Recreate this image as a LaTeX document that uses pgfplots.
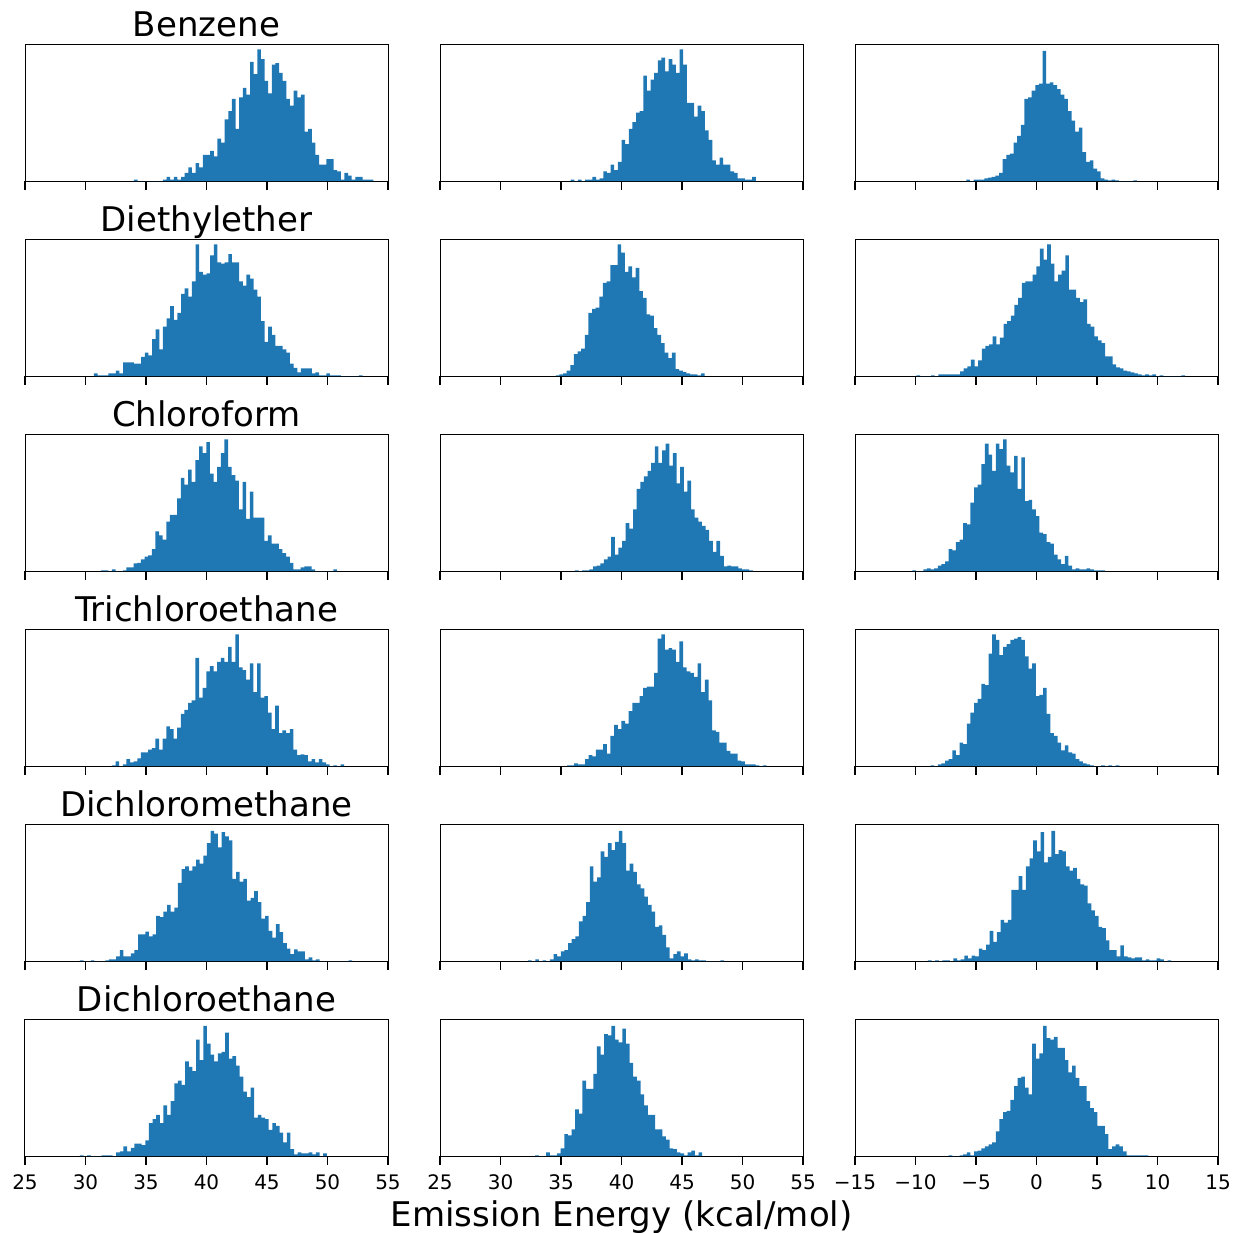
\documentclass[border=0pt]{standalone}
\usepackage{fontspec}
\setmainfont{DejaVu Sans}
\usepackage{pgfplots}
\pgfplotsset{compat=1.18}
\definecolor{tabblue}{HTML}{1F77B4}
\newcommand{\hist}[2]{\addplot[ybar interval, fill=tabblue, draw=none] table[x expr={#1+0.3*\coordindex}, y index=0, row sep=\\] {#2 0\\};}
\pgfplotsset{
  hax/.style={scale only axis, width=181.5pt, height=68.5pt, anchor=north west,
    ymin=0, ymax=100, ytick=\empty, enlargelimits=false,
    axis line style={line width=0.5pt},
    tick align=outside, xtick pos=left, major tick length=4.5pt,
    tick style={black, line width=0.9pt},
    /pgf/number format/assume math mode=true,
    tick label style={font=\fontsize{10}{12}\selectfont},
    xticklabel style={yshift=-1.5pt},
    every axis title/.style={at={(0.5,1)}, anchor=base, yshift=4pt, font=\fontsize{17}{20}\selectfont},
    xlabel style={at={(0.5,0)}, anchor=base, yshift=-35pt, font=\fontsize{17}{20}\selectfont},
  },
  cA/.style={hax, xmin=25, xmax=55, xtick={25,30,35,40,45,50,55}},
  cC/.style={hax, xmin=-15, xmax=15, xtick={-15,-10,-5,0,5,10,15}},
  nol/.style={xticklabels={}},
}
\begin{document}
\begin{tikzpicture}
\path[use as bounding box] (0,0) rectangle (618pt,-616pt);
% ---------- Row 1: Benzene
\begin{axis}[cA, nol, at={(12.5pt,-22pt)}, title={Benzene}]
\hist{34.0}{1\\0\\0\\0\\0\\0\\0\\0\\1\\3\\1\\3\\1\\3\\6\\10\\6\\13\\10\\19\\19\\22\\18\\31\\28\\45\\51\\60\\38\\61\\68\\63\\87\\78\\96\\89\\73\\64\\85\\86\\79\\73\\60\\55\\66\\61\\63\\36\\38\\28\\19\\12\\12\\16\\16\\8\\7\\1\\6\\4\\1\\3\\3\\1\\1\\1\\}
\end{axis}
\begin{axis}[cA, nol, at={(220pt,-22pt)}]
\hist{35.8}{1\\0\\1\\0\\1\\1\\3\\1\\2\\7\\6\\12\\8\\14\\30\\27\\38\\43\\50\\51\\77\\66\\74\\79\\88\\90\\80\\89\\85\\79\\96\\85\\57\\57\\47\\55\\51\\37\\30\\15\\12\\17\\12\\12\\7\\6\\2\\2\\1\\1\\3\\}
\end{axis}
\begin{axis}[cC, nol, at={(427.5pt,-22pt)}]
\hist{-5.8}{1\\0\\1\\1\\1\\2\\2.5\\3\\4\\6\\16\\19\\20\\28\\33\\41\\60\\61\\66\\70\\71\\95\\71\\72\\70\\67\\63\\60\\51\\44\\36\\39\\21\\14\\15\\9\\7\\2\\1\\0.5\\1\\0.5\\0\\0\\0\\0\\0.5\\}
\end{axis}
% ---------- Row 2: Diethylether
\begin{axis}[cA, nol, at={(12.5pt,-119.5pt)}, title={Diethylether}]
\hist{30.7}{2\\.5\\.5\\.5\\2\\2\\4\\2\\10\\10\\10\\9\\9\\14\\17\\15\\27\\34\\19.5\\36\\42\\51\\41\\46\\60\\64\\58\\69\\96\\76\\74\\75\\88\\96\\83\\82\\83\\89\\83\\83\\69\\66\\74\\71\\63\\58\\40\\25\\36\\30\\22\\22\\19.5\\17\\9\\6\\2.7\\5.6\\5.6\\5.6\\2\\2.7\\.5\\.5\\2\\.5\\.5\\.5\\0\\0\\0\\0\\0\\.5\\}
\end{axis}
\begin{axis}[cA, nol, at={(220pt,-119.5pt)}]
\hist{34.57}{.5\\1.2\\2\\4\\8\\16\\18\\20\\30\\46\\49\\50\\58\\68\\69\\81\\81\\96\\90\\76\\80\\72\\79\\62\\57\\45\\44\\35\\30\\24\\17\\13\\17\\5\\4\\3\\2\\1.2\\1.2\\.5\\2\\}
\end{axis}
\begin{axis}[cC, nol, at={(427.5pt,-119.5pt)}]
\hist{-9.92}{.5\\0\\0\\0\\.5\\0\\1.2\\1.2\\1.2\\1.2\\1.2\\1.2\\3.4\\5.6\\7\\12\\7\\11.5\\20\\22\\23\\29\\23\\28\\38\\40\\44\\52\\57\\68\\69\\69\\74\\80\\93\\85\\96\\82\\69\\74\\77\\88\\63\\63\\57\\54\\56\\38\\36\\29\\26\\24\\14.4\\14.4\\8.5\\6.3\\5.6\\4\\3.4\\2.7\\2\\1.2\\.5\\1.2\\.5\\1.2\\0\\.5\\0\\0\\0\\0\\0\\.5\\}
\end{axis}
% ---------- Row 3: Chloroform
\begin{axis}[cA, nol, at={(12.5pt,-217pt)}, title={Chloroform}]
\hist{31.28}{.5\\.5\\0\\1.2\\0\\0\\.5\\2.7\\2.7\\5.6\\6\\8.5\\10.5\\11.5\\16\\29\\26\\23\\36\\41\\41\\53\\68\\63\\74\\65\\81\\91\\86\\94\\71\\65\\76\\86\\96\\76\\70\\66\\45\\65\\38\\58\\39\\39\\39\\22\\26\\20\\20\\16\\13\\10.5\\6\\1.2\\1.2\\2.7\\3.4\\3.4\\1.2\\0\\0\\0\\0\\0\\1.2\\}
\end{axis}
\begin{axis}[cA, nol, at={(220pt,-217pt)}]
\hist{36.15}{.5\\0\\.5\\.5\\1.2\\3.4\\4\\5.6\\8.5\\10.5\\25\\12\\17\\22\\35\\31\\45\\60\\65\\69\\73\\79\\91\\79\\88\\93\\77\\86\\64\\76\\58\\66\\45\\39\\36\\33\\30\\22\\14\\22\\11\\3.4\\4\\3.4\\3.4\\2\\1.2\\1.2\\.5\\}
\end{axis}
\begin{axis}[cC, nol, at={(427.5pt,-217pt)}]
\hist{-10.26}{.5\\0\\0\\1.2\\2\\1.2\\2\\4\\5\\7\\16\\15\\21\\23\\35\\34\\50\\61\\63\\78\\93\\85\\73\\93\\89\\96\\77\\72\\84\\60\\83\\51\\52\\45\\40\\28\\27\\21\\20\\12\\8.5\\5\\11\\4\\1.2\\2\\1.2\\1.2\\2\\1.2\\.5\\.5\\.5\\}
\end{axis}
% ---------- Row 4: Trichloroethane
\begin{axis}[cA, nol, at={(12.5pt,-314.5pt)}, title={Trichloroethane}]
\hist{32.18}{.5\\3.4\\0\\1.2\\5\\2.7\\3.4\\5.6\\10\\10\\12\\13\\20\\12\\20\\29\\27\\20\\28\\38\\41\\46\\48\\79\\50\\57\\69\\73\\69\\76\\79\\76\\87\\76\\96\\72\\70\\63\\75\\54\\75\\50\\51\\39\\27\\44\\24\\26\\24\\27\\12\\8\\8.5\\8\\3.4\\5\\2.7\\5\\2.7\\1.2\\0\\.5\\0\\1.2\\}
\end{axis}
\begin{axis}[cA, nol, at={(220pt,-314.5pt)}]
\hist{35.49}{.5\\.5\\2\\1.2\\1.2\\5\\8\\7\\12\\12\\16\\9\\22\\30\\27\\33\\31\\40\\46\\46\\51\\57\\58\\58\\68\\93\\96\\85\\86\\85\\76\\91\\72\\69\\68\\65\\75\\54\\63\\48\\26\\25\\17\\17\\11\\9\\9\\4\\3.4\\1.2\\1.2\\1.2\\.5\\0\\.5\\}
\end{axis}
\begin{axis}[cC, nol, at={(427.5pt,-314.5pt)}]
\hist{-8.76}{.5\\0\\1.2\\2\\4\\5\\11.5\\8\\17\\16\\31\\39\\46\\49\\60\\59\\82\\96\\92\\81\\87\\89\\92\\93\\94\\92\\80\\71\\75\\51\\52\\57\\38\\24\\22\\17\\11.5\\15\\10\\9\\5\\3.4\\2\\1.2\\.5\\0\\0\\.5\\0\\.5\\0\\.5\\}
\end{axis}
% ---------- Row 5: Dichloromethane
\begin{axis}[cA, nol, at={(12.5pt,-412pt)}, title={Dichloromethane}]
\hist{29.54}{.5\\0\\0\\.5\\0\\0\\0\\.5\\1.2\\1.2\\3.4\\8\\3.4\\3.4\\5.6\\8\\19.5\\19.5\\21.5\\18\\19.5\\33\\32\\36\\41\\36\\39\\57\\67\\69\\66\\69\\74\\71\\77\\86\\95\\93\\83\\94\\91\\88\\60\\65\\58\\60\\44\\46\\51\\43\\31\\33\\22\\17\\27\\21\\13\\9\\5\\8.5\\7\\7\\1.2\\2.7\\.5\\1.2\\0\\0\\0\\0\\0\\0\\0\\0\\.5\\}
\end{axis}
\begin{axis}[cA, nol, at={(220pt,-412pt)}]
\hist{32.28}{.5\\0\\1.2\\0\\.5\\0\\1.2\\5\\3.4\\7\\8\\13\\16\\18\\29\\33\\43\\69\\58\\61\\80\\76\\86\\81\\87\\95\\86\\66\\71\\65\\56\\53\\47\\41\\36\\25\\26\\19\\10\\2\\5\\7\\3.4\\5.6\\1.2\\.5\\1.2\\.5\\.5\\0\\0\\0\\0\\.5\\}
\end{axis}
\begin{axis}[cC, nol, at={(427.5pt,-412pt)}]
\hist{-8.97}{.5\\0\\.5\\0\\.5\\.5\\0\\2\\.5\\1.2\\4\\2\\4\\3.4\\9\\8\\12\\22\\14\\21\\30\\28\\30\\52\\52\\62\\52\\69\\75\\88\\80\\94\\72\\76\\95\\78\\81\\80\\69\\66\\68\\60\\56\\55\\42\\37\\33\\25\\24\\15\\8\\8\\3.4\\11.5\\3.4\\2.7\\2\\2.7\\2.7\\.5\\1.2\\.5\\.5\\2\\1.2\\0\\.5\\}
\end{axis}
% ---------- Row 6: Dichloroethane
\begin{axis}[cA, at={(12.5pt,-509.5pt)}, title={Dichloroethane}]
\hist{29.54}{.5\\0\\.5\\0\\0\\0\\.5\\.5\\.5\\0\\2.7\\3.4\\7\\3.4\\6\\9\\9\\8\\11.5\\24\\27\\30\\24\\37\\30\\40\\53\\55\\52\\69\\65\\62\\85\\70\\95\\82\\74\\69\\75\\76\\90\\71\\73\\66\\58\\47\\43\\50\\28\\30\\28\\27\\19\\24\\22\\17\\10\\17\\5\\1.2\\2.7\\2\\2\\2.7\\1.2\\2.7\\0\\2\\}
\end{axis}
\begin{axis}[cA, at={(220pt,-509.5pt)}, xlabel={Emission Energy (kcal/mol)}]
\hist{32.87}{.5\\0\\0\\2.7\\.5\\.5\\2\\5.6\\16\\15\\19.5\\34\\31\\55\\49\\49\\60\\80\\74\\89\\88\\95\\85\\83\\93\\82\\68\\58\\55\\45\\37\\30\\30\\19.5\\19.5\\14.4\\12\\5.6\\5\\2.7\\2\\.5\\2.7\\4\\.5\\2.7\\}
\end{axis}
\begin{axis}[cC, at={(427.5pt,-509.5pt)}, xticklabels={−15,−10,−5,0,5,10,15}]
\hist{-7.26}{.5\\0\\0\\.5\\1.2\\2.7\\.5\\3.4\\4\\5.6\\7\\8.5\\10\\18\\27\\32\\33\\41\\51\\57\\58\\50\\45\\82\\71\\75\\95\\86\\85\\87\\79\\79\\70\\61\\66\\57\\51\\51\\40\\35\\32\\22\\22\\16\\5\\7\\8.5\\7\\3.4\\.5\\.5\\.5\\.5\\.5\\.5\\}
\end{axis}
\end{tikzpicture}
\end{document}
